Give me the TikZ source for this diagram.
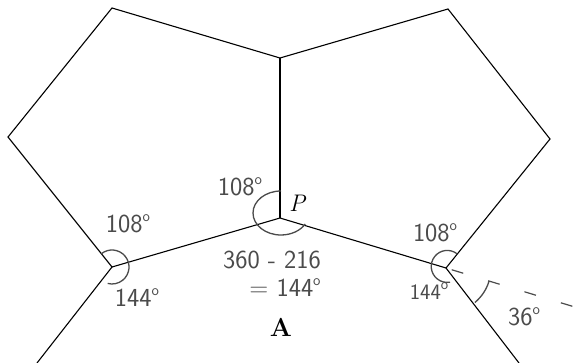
\documentclass[tikz,border=0pt]{standalone}
\usepackage{fontspec}
\definecolor{pencil}{RGB}{75,75,75}
\newcommand{\dg}{\raisebox{0.42em}{\fontsize{15}{15}\selectfont o}}
\begin{document}
\begin{tikzpicture}[x=1pt,y=-1pt,
  edge/.style={line width=1.1pt, black},
  hw/.style={text=pencil, font=\sffamily\fontsize{26}{26}\selectfont, inner sep=0pt},
  hws/.style={hw, font=\sffamily\fontsize{22}{22}\selectfont},
  arcl/.style={draw=pencil, line width=1.3pt},
  dashl/.style={draw=pencil, line width=1.2pt, dash pattern=on 12pt off 26pt}]
\useasboundingbox (0,0) rectangle (588,363);
\fill[white] (0,0) rectangle (588,363);
% vertices
\coordinate (T1) at (112,8);
\coordinate (M) at (280,58);
\coordinate (L) at (8,137);
\coordinate (V1) at (112,267);
\coordinate (P) at (280,218);
\coordinate (T2) at (448,9);
\coordinate (R) at (550,139);
\coordinate (V2) at (446,268);
\coordinate (E1) at (37,363);
\coordinate (E2) at (519,363);
\coordinate (D) at (588,311);
\coordinate (PC) at (281,213);
% edges
\draw[edge] (V1) -- (L) -- (T1) -- (M) -- (T2) -- (R) -- (V2) -- (P) -- (V1);
\draw[edge] (M) -- (P);
\draw[edge] (V1) -- (E1);
\draw[edge] (V2) -- (E2);
\draw[dashl] ([shift={(-17:6pt)}]V2) -- (D);
% angle arcs
\draw[arcl] ([shift={(129:17pt)}]V1) arc[start angle=129, end angle=-105, radius=17pt];
\draw[arcl] ([shift={(90:22pt)}]PC) arc[start angle=90, end angle=330, x radius=28pt, y radius=22pt];
\draw[arcl] ([shift={(52:18pt)}]V2) arc[start angle=52, end angle=280, radius=16pt];
\draw[arcl] ([shift={(-17:45pt)}]V2) arc[start angle=-17, end angle=-50, radius=45pt];
% labels
\node[hw] (a1) at (128,224) {108\dg};
\node[hw] (b1) at (137,298) {144\dg};
\node[hw] (a2) at (240,187) {108\dg};
\node[hw] (c1) at (272,260) {360 - 216};
\node[hw] (c2) at (285,288) {= 144\dg};
\node[hw] (a3) at (435,233) {108\dg};
\node[hws] (b3) at (429,291) {144\dg};
\node[hw] (d3) at (524,317) {36\dg};
\node[inner sep=0pt, font=\fontsize{24}{24}\selectfont\itshape] (pl) at (297,203) {P};
\node[inner sep=0pt, font=\fontsize{26}{26}\selectfont\bfseries] (al) at (281,327) {A};
\end{tikzpicture}
\end{document}
